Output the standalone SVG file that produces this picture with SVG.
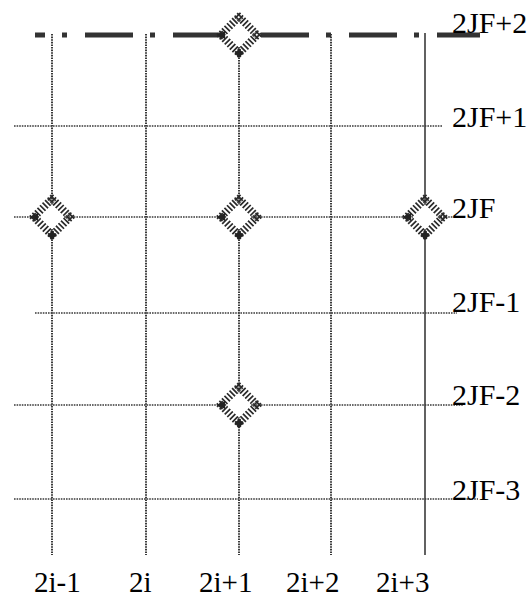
<svg xmlns="http://www.w3.org/2000/svg" xmlns:xlink="http://www.w3.org/1999/xlink" width="532" height="598" viewBox="0 0 532 598">
<style>
.dot{stroke:#3a3a3a;stroke-width:1.5;stroke-dasharray:1.6 1;fill:none}
.vdot{stroke:#3a3a3a;stroke-width:2;stroke-dasharray:1.6 1;fill:none}
.solid{stroke:#3a3a3a;stroke-width:1.6;fill:none}
.thick{stroke:#333;stroke-width:5;stroke-dasharray:48 17 5 18;stroke-dashoffset:38;fill:none}
.lbl{font-family:"Liberation Serif","Times New Roman",serif;font-size:30px;fill:#000}
.bl{font-size:29px}
.pin{stroke:#2a2a2a;stroke-width:1.7}
</style>
<defs>
<g id="pad">
<g transform="rotate(45)">
<g class="pin">
<path d="M-14.6,-16.8V-8.8M-11,-16.8V-8.8M-7.4,-16.8V-8.8M-3.8,-16.8V-8.8M-0.2,-16.8V-8.8M3.4,-16.8V-8.8M7,-16.8V-8.8M10.6,-16.8V-8.8M14.2,-16.8V-8.8"/>
<path d="M14.6,16.8V8.8M11,16.8V8.8M7.4,16.8V8.8M3.8,16.8V8.8M0.2,16.8V8.8M-3.4,16.8V8.8M-7,16.8V8.8M-10.6,16.8V8.8M-14.2,16.8V8.8"/>
<path d="M-16.8,14.6H-8.8M-16.8,11H-8.8M-16.8,7.4H-8.8M-16.8,3.8H-8.8M-16.8,0.2H-8.8M-16.8,-3.4H-8.8M-16.8,-7H-8.8M-16.8,-10.6H-8.8M-16.8,-14.2H-8.8"/>
<path d="M16.8,-14.6H8.8M16.8,-11H8.8M16.8,-7.4H8.8M16.8,-3.8H8.8M16.8,-0.2H8.8M16.8,3.4H8.8M16.8,7H8.8M16.8,10.6H8.8M16.8,14.2H8.8"/>
</g>
<rect x="-8.8" y="-8.8" width="17.6" height="17.6" fill="#fff"/>
</g>
<path d="M-22,0L-14,-4L-14,4Z" fill="#222"/>
<path d="M0,23L-4.5,18L0,14L4.5,18Z" fill="#222"/>
<path d="M-3,-17L0,-13L3,-17M17,-3L13,0L17,3" stroke="#666" stroke-width="1" fill="none"/>
</g>
</defs>
<g id="connectors">
<line class="vdot" x1="52" y1="34" x2="52" y2="555"/>
<line class="vdot" x1="146" y1="34" x2="146" y2="555"/>
<line class="vdot" x1="239" y1="34" x2="239" y2="555"/>
<line class="vdot" x1="331" y1="34" x2="331" y2="555"/>
<line class="solid" x1="425" y1="33" x2="425" y2="555"/>
<line class="dot" x1="14" y1="126" x2="443" y2="126"/>
<line class="dot" x1="14" y1="217" x2="462" y2="217"/>
<line class="dot" x1="35" y1="313" x2="457" y2="313"/>
<line class="dot" x1="14" y1="405" x2="463" y2="405"/>
<line class="dot" x1="14" y1="499" x2="478" y2="499"/>
<line class="thick" x1="35" y1="35" x2="480" y2="35"/>
</g>
<g id="pad-top"><use xlink:href="#pad" href="#pad" x="239" y="35"/></g>
<g id="pad-left"><use xlink:href="#pad" href="#pad" x="52" y="217"/></g>
<g id="pad-center"><use xlink:href="#pad" href="#pad" x="239" y="217"/></g>
<g id="pad-right"><use xlink:href="#pad" href="#pad" x="425" y="217"/></g>
<g id="pad-bottom"><use xlink:href="#pad" href="#pad" x="239" y="405"/></g>
<g id="labels">
<text class="lbl" x="452" y="33">2JF+2</text>
<text class="lbl" x="452" y="127">2JF+1</text>
<text class="lbl" x="452" y="218">2JF</text>
<text class="lbl" x="452" y="312">2JF-1</text>
<text class="lbl" x="452" y="405">2JF-2</text>
<text class="lbl" x="452" y="500">2JF-3</text>
<text class="lbl bl" x="34" y="592">2i-1</text>
<text class="lbl bl" x="129" y="592">2i</text>
<text class="lbl bl" x="199" y="592">2i+1</text>
<text class="lbl bl" x="286" y="592">2i+2</text>
<text class="lbl bl" x="376" y="592">2i+3</text>
</g>
</svg>
